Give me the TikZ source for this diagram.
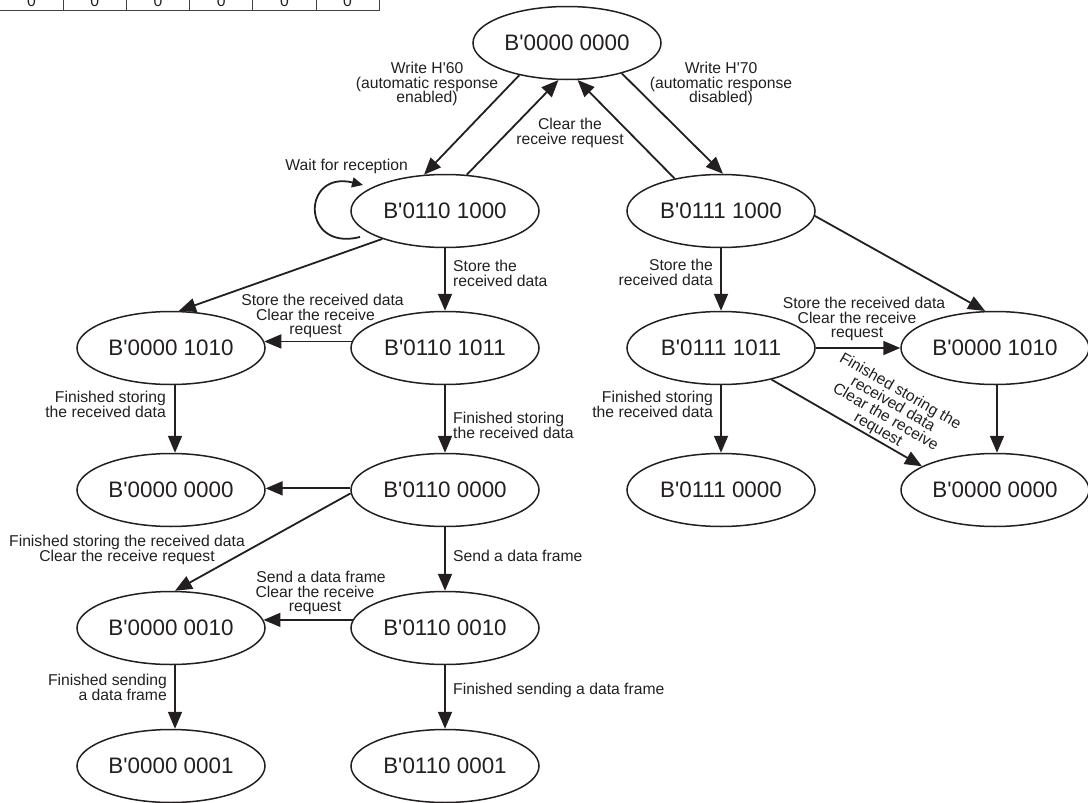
\documentclass[tikz,border=0pt]{standalone}
\usepackage{fontspec}
\setmainfont{Liberation Sans}
\usetikzlibrary{arrows.meta,shapes.geometric}
\definecolor{ink}{RGB}{35,31,32}
\newcommand{\myq}{\textquotesingle}
\begin{document}
\begin{tikzpicture}[x=1pt,y=-1pt,
  state/.style={ellipse, draw=ink, line width=1.5pt, minimum width=188pt, minimum height=73pt,
    inner sep=0pt, font=\fontsize{22.4}{26}\selectfont, text=ink},
  conn/.style={draw=ink, line width=1.8pt, -{Triangle[length=17pt,width=14pt]}},
  loopconn/.style={draw=ink, line width=1.8pt, -{Triangle[length=11pt,width=10pt]}},
  lbl/.style={inner sep=0pt, align=center, font=\fontsize{15.7}{14.8}\selectfont, text=ink},
  lblr/.style={lbl, align=right, anchor=east},
  lbll/.style={lbl, align=left, anchor=west},
  tbl/.style={draw=ink!85, line width=1pt}
]
\useasboundingbox (0,0) rectangle (1088,803);
\clip (0,0) rectangle (1088,803);

% partial table at top left
\draw[tbl] (0,10.5) -- (379.2,10.5);
\foreach \i in {1,...,6} {
  \draw[tbl] (63.2*\i,-20) -- (63.2*\i,10.5);
  \node[lbl, anchor=base] (z\i) at (63.2*\i-31.6,6) {0};
}

% states
\node[state] (T)   at (567,43)  {B\myq 0000 0000};
\node[state] (L1)  at (445,211) {B\myq 0110 1000};
\node[state] (R1)  at (721,211) {B\myq 0111 1000};
\node[state] (L2a) at (171,348) {B\myq 0000 1010};
\node[state] (L2b) at (445,348) {B\myq 0110 1011};
\node[state] (R2a) at (721,348) {B\myq 0111 1011};
\node[state] (R2b) at (995,348) {B\myq 0000 1010};
\node[state] (L3a) at (171,490) {B\myq 0000 0000};
\node[state] (L3b) at (445,490) {B\myq 0110 0000};
\node[state] (R3a) at (721,490) {B\myq 0111 0000};
\node[state] (R3b) at (995,490) {B\myq 0000 0000};
\node[state] (L4a) at (171,628) {B\myq 0000 0010};
\node[state] (L4b) at (445,628) {B\myq 0110 0010};
\node[state] (L5a) at (171,766) {B\myq 0000 0001};
\node[state] (L5b) at (445,766) {B\myq 0110 0001};

% connectors
\draw[conn] (T.214) -- (L1.120);
\draw[conn] (L1.59) -- (T.257);
\draw[conn] (R1.145) -- (T.286);
\draw[conn] (T.331) -- (R1.87);
\coordinate (lpA) at (360,237);
\coordinate (lpB) at (363,185);
\draw[loopconn] (lpA) .. controls (301,252) and (301,170) .. (lpB);
\draw[conn] (L1.204) -- (L2a.78);
\draw[conn] (L1.south) -- (L2b.north);
\draw[conn] (R1.south) -- (R2a.north);
\draw[conn] (R1.357) -- (R2b.105);
\draw[conn] (L2b.176) -- (L2a.4);
\draw[conn] (R2a.east) -- (R2b.west);
\draw[conn] ([xshift=4pt]L2a.south) -- ([xshift=4pt]L3a.north);
\draw[conn] (L2b.south) -- (L3b.north);
\draw[conn] (R2a.south) -- (R3a.north);
\draw[conn] (R2a.328) -- (R3b.162);
\draw[conn] ([xshift=2pt]R2b.south) -- ([xshift=2pt]R3b.north);
\draw[conn] (L3b.179) -- (L3a.1);
\draw[conn] (L3b.182) -- ([xshift=4pt]L4a.north);
\draw[conn] (L3b.south) -- (L4b.north);
\draw[conn] (L4b.175) -- (L4a.5);
\draw[conn] ([xshift=4pt]L4a.south) -- ([xshift=4pt]L5a.north);
\draw[conn] (L4b.south) -- (L5b.north);

% labels
\node[lbl] (t1) at (427,84) {Write H\myq 60\\(automatic response\\enabled)};
\node[lbl] (t2) at (721,84) {Write H\myq 70\\(automatic response\\disabled)};
\node[lbl] (t3) at (570,133) {Clear the\\receive request};
\node[lblr] (t4) at (408,166) {Wait for reception};
\node[lbll] (t5) at (453,273) {Store the\\received data};
\node[lbl] (t6) at (315.5,316) {\hspace*{14pt}Store the received data\\Clear the receive\\request};
\node[lblr] (t7) at (166,404) {Finished storing\\the received data};
\node[lbll] (t8) at (453,425) {Finished storing\\the received data};
\node[lbl] (t9) at (127,550) {Finished storing the received data\\Clear the receive request};
\node[lbll] (t10) at (453,556) {Send a data frame};
\node[lbl] (t11) at (315,593) {\hspace*{12pt}Send a data frame\\Clear the receive\\request};
\node[lblr] (t12) at (167,687) {Finished sending\\a data frame};
\node[lbll] (t13) at (453,690) {Finished sending a data frame};
\node[lblr] (t14) at (713,272) {Store the\\received data};
\node[lbl] (t15) at (857,319) {\hspace*{14pt}Store the received data\\Clear the receive\\request};
\node[lblr] (t16) at (713,404) {Finished storing\\the received data};
\node[lbl, rotate=-30] (t17) at (889,411) {Finished storing the\\received data\\Clear the receive\\request};
\end{tikzpicture}
\end{document}
